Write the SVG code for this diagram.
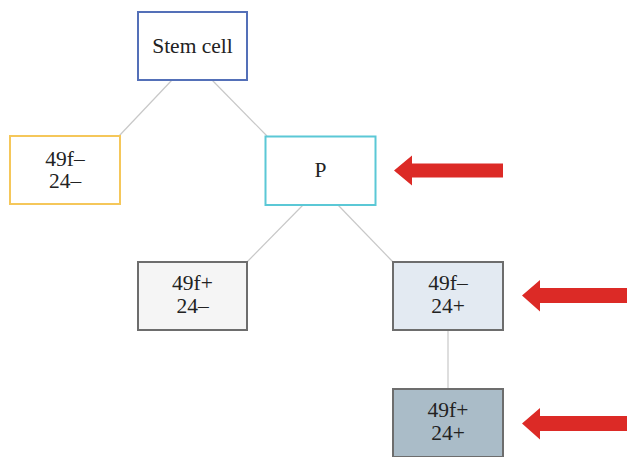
<svg xmlns="http://www.w3.org/2000/svg" width="627" height="457" viewBox="0 0 627 457">
<style>
.t{font-family:"Liberation Serif","Times New Roman","DejaVu Serif",serif;font-size:21.5px;fill:#222;text-anchor:middle}
.b{stroke-width:2}
.g{fill:#f5f5f5;stroke:#6d6d6d}
.c{stroke:#c8c8c8;stroke-width:1.2;fill:none}
.a{fill:#dc2a26}
</style>
<rect width="627" height="457" fill="#fff"/>
<g id="connectors">
<line class="c" x1="172" y1="80" x2="119" y2="136"/>
<line class="c" x1="212" y1="80" x2="267" y2="136"/>
<line class="c" x1="303" y1="205" x2="247" y2="262"/>
<line class="c" x1="338" y1="205" x2="393" y2="262"/>
<line class="c" x1="448" y1="330" x2="448" y2="389"/>
</g>
<g id="stem">
<rect class="b" x="138" y="12" width="109" height="68" fill="#fff" stroke="#5470b8"/>
<text class="t" x="192.5" y="52.5">Stem cell</text>
</g>
<g id="n1">
<rect class="b" x="10" y="136" width="110" height="68" fill="#fff" stroke="#f5c75a"/>
<text class="t" x="65" y="166">49f–</text>
<text class="t" x="65" y="187.5">24–</text>
</g>
<g id="p">
<rect class="b" x="265.5" y="136.5" width="110" height="68.5" fill="#fff" stroke="#5bc8d6"/>
<text class="t" x="320.5" y="177">P</text>
</g>
<g id="n2">
<rect class="b g" x="138" y="262" width="109" height="68"/>
<text class="t" x="192.5" y="290">49f+</text>
<text class="t" x="192.5" y="312.5">24–</text>
</g>
<g id="n3">
<rect class="b" x="393" y="262" width="110" height="68" fill="#e3eaf2" stroke="#6d6d6d"/>
<text class="t" x="448" y="290">49f–</text>
<text class="t" x="448" y="312.5">24+</text>
</g>
<g id="n4">
<rect class="b" x="393" y="389" width="110" height="68" fill="#aabcc8" stroke="#6d6d6d"/>
<text class="t" x="448" y="417">49f+</text>
<text class="t" x="448" y="439.5">24+</text>
</g>
<g id="arrows">
<polygon class="a" points="394,170.5 412,155.5 412,163.5 503,163.5 503,177.5 412,177.5 412,185.5"/>
<polygon class="a" points="522,295.5 540,280 540,288 627,288 627,303 540,303 540,311.5"/>
<polygon class="a" points="522,423.5 540,408 540,416 627,416 627,431 540,431 540,439.5"/>
</g>
</svg>
